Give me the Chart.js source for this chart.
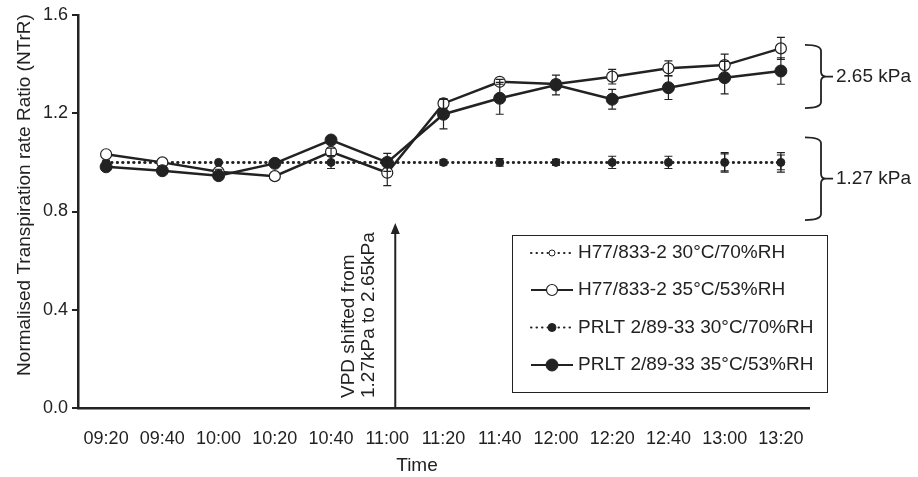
<!DOCTYPE html>
<html>
<head>
<meta charset="utf-8">
<script src="https://cdn.jsdelivr.net/npm/chart.js@4.4.1/dist/chart.umd.min.js"></script>
<style>
  html, body { margin: 0; padding: 0; background: #fff; }
</style>
</head>
<body>
<canvas id="myChart" width="918" height="477"></canvas>
<script>
const times = ["09:20", "09:40", "10:00", "10:20", "10:40", "11:00", "11:20", "11:40", "12:00", "12:20", "12:40", "13:00", "13:20"];

const h77Cool = [1.0, 1.0, 1.0, 1.0, 1.0, 1.0, 1.0, 1.0, 1.0, 1.0, 1.0, 1.0, 1.0];
const h77CoolErr = [0, 0, 0, 0, 0, 0, 0, 0, 0, 0, 0, 0.04, 0.03];
const h77Hot = [1.033, 1.0, 0.962, 0.944, 1.043, 0.958, 1.24, 1.328, 1.319, 1.349, 1.383, 1.396, 1.464];
const h77HotErr = [0, 0, 0.01, 0, 0.015, 0.053, 0.02, 0.01, 0.015, 0.03, 0.03, 0.045, 0.045];
const prltCool = [1.0, 1.0, 1.0, 1.0, 1.0, 1.0, 1.0, 1.0, 1.0, 1.0, 1.0, 1.0, 1.0];
const prltCoolErr = [0, 0, 0, 0, 0.025, 0, 0.01, 0.015, 0.012, 0.025, 0.025, 0.035, 0.04];
const prltHot = [0.982, 0.966, 0.946, 0.996, 1.091, 1.0, 1.196, 1.261, 1.315, 1.257, 1.304, 1.345, 1.372];
const prltHotErr = [0, 0, 0, 0, 0, 0.037, 0.06, 0.065, 0.04, 0.04, 0.048, 0.066, 0.054];

const yTicks = [0, 0.4, 0.8, 1.2, 1.6];

const ink = "#222";
const fontFamily = "'Liberation Sans', Arial, sans-serif";

// error bars, drawn through the y scale
const errorBars = {
  id: "errorBars",
  afterDatasetsDraw(chart) {
    const ctx = chart.ctx;
    const y = chart.scales.y;
    ctx.save();
    ctx.strokeStyle = ink;
    ctx.lineWidth = 1.2;
    chart.data.datasets.forEach((ds, i) => {
      const meta = chart.getDatasetMeta(i);
      meta.data.forEach((pt, j) => {
        const e = ds.errors[j];
        if (!e) return;
        const top = y.getPixelForValue(ds.data[j] + e);
        const bot = y.getPixelForValue(ds.data[j] - e);
        ctx.beginPath();
        ctx.moveTo(pt.x, top);
        ctx.lineTo(pt.x, bot);
        ctx.moveTo(pt.x - 4, top);
        ctx.lineTo(pt.x + 4, top);
        ctx.moveTo(pt.x - 4, bot);
        ctx.lineTo(pt.x + 4, bot);
        ctx.stroke();
      });
    });
    ctx.restore();
  },
};

// legend box, titles, arrow and VPD brackets
const extras = {
  id: "extras",
  afterDraw(chart) {
    const ctx = chart.ctx;
    const x = chart.scales.x;
    const y = chart.scales.y;
    ctx.save();
    ctx.fillStyle = ink;
    ctx.strokeStyle = ink;

    // axis titles
    ctx.font = "19px " + fontFamily;
    ctx.textAlign = "center";
    ctx.textBaseline = "middle";
    ctx.fillText("Time", 417, 466);
    ctx.save();
    ctx.translate(25, 195);
    ctx.rotate(-Math.PI / 2);
    ctx.fillText("Normalised Transpiration rate Ratio (NTrR)", 0, 0);
    ctx.restore();

    // legend
    ctx.lineWidth = 1;
    ctx.strokeRect(512.5, 235.5, 315, 157);
    const rows = [253, 290, 327.5, 365];
    chart.data.datasets.forEach((ds, i) => {
      const ry = rows[i];
      ctx.save();
      ctx.lineWidth = ds.borderWidth - 0.5;
      ctx.lineCap = ds.borderCapStyle || "butt";
      ctx.setLineDash(ds.borderDash || []);
      ctx.beginPath();
      ctx.moveTo(531, ry);
      ctx.lineTo(573, ry);
      ctx.stroke();
      ctx.restore();
      ctx.beginPath();
      ctx.arc(552, ry, ds.pointRadius, 0, Math.PI * 2);
      ctx.fillStyle = ds.pointBackgroundColor;
      ctx.fill();
      ctx.lineWidth = ds.pointBorderWidth;
      ctx.stroke();
      ctx.fillStyle = ink;
      ctx.textAlign = "left";
      ctx.fillText(ds.label, 578, ry);
    });

    // arrow marking the VPD shift
    const ax = x.getPixelForValue(5) + 8;
    const aTop = y.getPixelForValue(0.753);
    const aBot = y.getPixelForValue(0.003);
    ctx.lineWidth = 2;
    ctx.beginPath();
    ctx.moveTo(ax, aBot);
    ctx.lineTo(ax, aTop + 8);
    ctx.stroke();
    ctx.beginPath();
    ctx.moveTo(ax, aTop);
    ctx.lineTo(ax - 4.5, aTop + 11);
    ctx.lineTo(ax + 4.5, aTop + 11);
    ctx.closePath();
    ctx.fill();
    ctx.textAlign = "left";
    ctx.save();
    ctx.translate(ax - 47, 398);
    ctx.rotate(-Math.PI / 2);
    ctx.fillText("VPD shifted from", 0, 0);
    ctx.fillText("1.27kPa to 2.65kPa", 0, 20);
    ctx.restore();

    // brackets
    const bracket = (vTop, vBot, label) => {
      const t = y.getPixelForValue(vTop);
      const b = y.getPixelForValue(vBot);
      const m = (t + b) / 2;
      const bx = 821;
      ctx.lineWidth = 1.8;
      ctx.beginPath();
      ctx.moveTo(805, t);
      ctx.quadraticCurveTo(bx, t, bx, t + 6);
      ctx.lineTo(bx, m - 5);
      ctx.quadraticCurveTo(bx, m, bx + 5, m);
      ctx.quadraticCurveTo(bx, m, bx, m + 5);
      ctx.lineTo(bx, b - 6);
      ctx.quadraticCurveTo(bx, b, 805, b);
      ctx.moveTo(bx + 5, m);
      ctx.lineTo(833, m);
      ctx.stroke();
      ctx.textAlign = "left";
      ctx.fillText(label, 836, m);
    };
    bracket(1.478, 1.221, "2.65 kPa");
    bracket(1.102, 0.765, "1.27 kPa");

    ctx.restore();
  },
};

new Chart("myChart", {
  type: "line",
  data: {
    labels: times,
    datasets: [
      {
        label: "H77/833-2 30°C/70%RH",
        data: h77Cool,
        errors: h77CoolErr,
        borderColor: ink,
        borderWidth: 2.5,
        borderDash: [0.5, 5],
        borderCapStyle: "round",
        pointRadius: 3,
        pointBorderWidth: 1,
        pointBackgroundColor: "#fff",
        pointBorderColor: ink,
        tension: 0,
        order: 4,
      },
      {
        label: "H77/833-2 35°C/53%RH",
        data: h77Hot,
        errors: h77HotErr,
        borderColor: ink,
        borderWidth: 2.5,
        pointRadius: 5.5,
        pointBorderWidth: 1.2,
        pointBackgroundColor: "#fff",
        pointBorderColor: ink,
        tension: 0,
        order: 2,
      },
      {
        label: "PRLT 2/89-33 30°C/70%RH",
        data: prltCool,
        errors: prltCoolErr,
        borderColor: ink,
        borderWidth: 2.5,
        borderDash: [0.5, 5],
        borderCapStyle: "round",
        pointRadius: 4,
        pointBorderWidth: 1,
        pointBackgroundColor: ink,
        pointBorderColor: ink,
        tension: 0,
        order: 3,
      },
      {
        label: "PRLT 2/89-33 35°C/53%RH",
        data: prltHot,
        errors: prltHotErr,
        borderColor: ink,
        borderWidth: 2.5,
        pointRadius: 6,
        pointBorderWidth: 1,
        pointBackgroundColor: ink,
        pointBorderColor: ink,
        tension: 0,
        order: 1,
      },
    ],
  },
  options: {
    responsive: false,
    animation: false,
    layout: { padding: { left: 0, right: 109, top: 15, bottom: 0 } },
    plugins: {
      legend: { display: false },
      tooltip: { enabled: false },
    },
    scales: {
      x: {
        offset: true,
        grid: { display: false },
        border: { color: ink, width: 2.5 },
        ticks: {
          color: ink,
          padding: 12,
          maxRotation: 0,
          autoSkip: false,
          font: { family: fontFamily, size: 18 },
        },
        afterFit(scale) {
          scale.height = 69;
        },
      },
      y: {
        min: yTicks[0],
        max: yTicks[yTicks.length - 1],
        grid: {
          drawOnChartArea: false,
          tickLength: 6,
          color: ink,
          lineWidth: 2,
        },
        border: { color: ink, width: 2.5 },
        afterBuildTicks(scale) {
          scale.ticks = yTicks.map((v) => ({ value: v }));
        },
        ticks: {
          color: ink,
          padding: 4,
          font: { family: fontFamily, size: 18 },
          callback: (v) => Number(v).toFixed(1),
        },
        afterFit(scale) {
          scale.width = 78;
        },
      },
    },
  },
  plugins: [errorBars, extras],
});
</script>
</body>
</html>
